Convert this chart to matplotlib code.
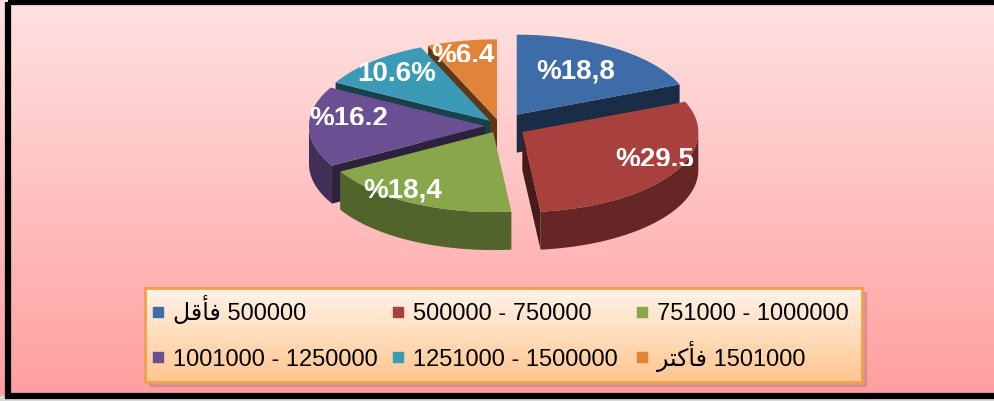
import numpy as np
import matplotlib
matplotlib.use("Agg")
import matplotlib.pyplot as plt
from matplotlib.patches import Polygon, Rectangle
from matplotlib.colors import to_rgb
from matplotlib.transforms import Bbox, TransformedBbox

# data
categories = [
    "\ufede\ufed7\ufe84\ufed3 500000",   # "500000 فأقل" (presentation forms, visual order)
    "500000 - 750000",
    "751000 - 1000000",
    "1001000 - 1250000",
    "1251000 - 1500000",
    "\ufeae\ufe98\ufedb\ufe84\ufed3 1501000",  # "1501000 فأكثر"
]
shares = [18.8, 29.5, 18.4, 16.2, 10.6, 6.4]
labels = ["%18,8", "%29.5", "%18,4", "%16.2", "10.6%", "%6.4"]
colors = ["#3e6ca8", "#a8403d", "#87a74a", "#6a5092", "#3b9bb6", "#e0843c"]

# pie geometry (pixel space)
CX, CY = 500, 126
RX, RY = 176, 80
DEPTH = 38
explode = [30, 26, 15, 15, 15, 15]
label_r = [0.63, 0.83, 0.89, 0.78, 0.79, 0.82]
label_turn = [2, 6, -8, -7, 0, 2]
label_clip = [None, 166, None, 125, 81, 62]   # labels are cut off at the bottom in the original

plt.rcParams["font.family"] = ["Liberation Sans", "DejaVu Sans"]

fig = plt.figure(figsize=(9.95, 4.01), dpi=100)
ax = fig.add_axes([0, 0, 1, 1])
ax.set_xlim(0, 995)
ax.set_ylim(401, 0)
ax.axis("off")

# background gradient
grad = np.linspace(0, 1, 256)[:, None]
top, bot = np.array(to_rgb("#ffe2e2")), np.array(to_rgb("#ff9e9e"))
img = top + (bot - top) * grad[:, :, None]
ax.imshow(img, extent=(0, 995, 401, 0), aspect="auto", zorder=0)
ax.add_patch(Rectangle((0, 396), 995, 5, color="#d8d8d8", zorder=1))
ax.add_patch(Rectangle((8, 2), 995, 394, fill=False, ec="black", lw=4.5, zorder=10))


def shade(c, f):
    return tuple(np.array(to_rgb(c)) * f)


def pt(cx, cy, a, dz=0):
    t = np.radians(a)
    return cx + RX * np.cos(t), cy - RY * np.sin(t) + dz


# slice angles, clockwise from 12 o'clock
total = sum(shares)
starts, ends = [], []
a = 90.0
for s in shares:
    starts.append(a)
    a -= 360 * s / total
    ends.append(a)

order = sorted(range(len(shares)),
               key=lambda i: -np.sin(np.radians((starts[i] + ends[i]) / 2)))

for i in order:
    a0, a1 = starts[i], ends[i]
    mid = np.radians((a0 + a1) / 2)
    cx = CX + explode[i] * np.cos(mid)
    cy = CY - explode[i] * np.sin(mid) * RY / RX
    col = colors[i]

    # radial walls facing the viewer
    for wa, nrm in ((a0, a0 + 90), (a1, a1 - 90)):
        if np.sin(np.radians(nrm)) < -0.01:
            ex, ey = pt(cx, cy, wa)
            wall = [(cx, cy), (ex, ey), (ex, ey + DEPTH), (cx, cy + DEPTH)]
            ax.add_patch(Polygon(wall, closed=True, fc=shade(col, 0.42),
                                 ec="none", zorder=3))

    # outer front wall
    lo, hi = max(a1, -180), min(a0, 0)
    if hi > lo:
        angs = np.linspace(lo, hi, 60)
        topx, topy = pt(cx, cy, angs)
        xs = np.concatenate([topx, topx[::-1]])
        ys = np.concatenate([topy, (topy + DEPTH)[::-1]])
        ax.add_patch(Polygon(np.column_stack([xs, ys]), closed=True,
                             fc=shade(col, 0.6), ec="none", zorder=3))

    # top face
    angs = np.linspace(a0, a1, 80)
    tx, ty = pt(cx, cy, angs)
    face = np.column_stack([np.r_[cx, tx], np.r_[cy, ty]])
    ax.add_patch(Polygon(face, closed=True, fc=col, ec="none", zorder=4))

    la = mid + np.radians(label_turn[i])
    lx = cx + label_r[i] * RX * np.cos(la)
    ly = cy - label_r[i] * RY * np.sin(la)
    t = ax.text(lx, ly, labels[i], color="white", fontsize=20, fontweight="bold",
                ha="center", va="center", zorder=6)
    if label_clip[i] is not None:
        t.set_clip_box(TransformedBbox(Bbox([[0, 0], [995, label_clip[i]]]), ax.transData))
        t.set_clip_on(True)

# legend box
ax.add_patch(Rectangle((149, 292), 717, 94, color="#c08080", alpha=0.5, zorder=6))
box = Rectangle((145, 288), 717, 94, fc="none", ec="#f3a04c", lw=2, zorder=8)
lg_top, lg_bot = np.array(to_rgb("#fff3ea")), np.array(to_rgb("#ffc68e"))
lg = lg_top + (lg_bot - lg_top) * grad[:, :, None]
ax.imshow(lg, extent=(145, 862, 382, 288), aspect="auto", zorder=7)
ax.add_patch(box)

col_x = [158, 398, 642]
row_y = [312, 357]
for i, name in enumerate(categories):
    x = col_x[i % 3]
    y = row_y[i // 3]
    ax.add_patch(Rectangle((x - 5, y - 5), 10, 10, color=colors[i], zorder=9))
    ax.text(x + 15, y + 8.5, name, fontsize=17, ha="left", va="baseline", zorder=9)

fig.savefig("out.png", dpi=100)
